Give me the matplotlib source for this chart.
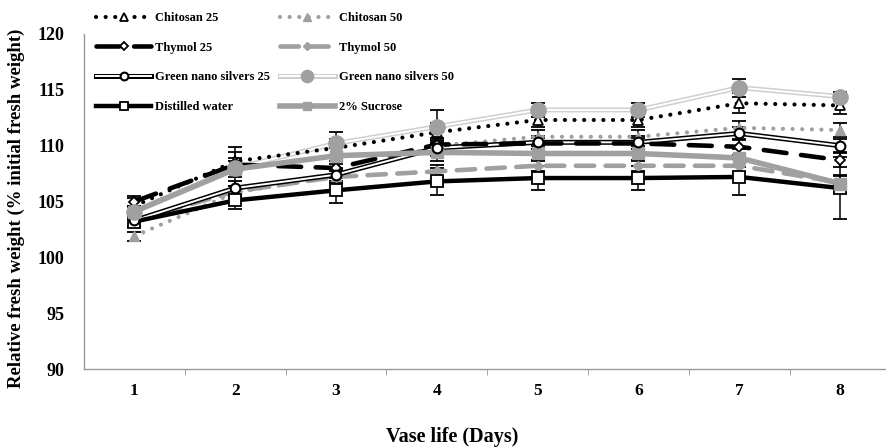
import matplotlib.pyplot as plt
from matplotlib.legend_handler import HandlerTuple

plt.rcParams['font.family'] = ['Liberation Serif', 'DejaVu Serif']
plt.rcParams['font.weight'] = 'bold'

days = [1, 2, 3, 4, 5, 6, 7, 8]

chitosan25 = [104.6, 108.6, 109.8, 111.2, 112.3, 112.3, 113.8, 113.6]
chitosan50 = [101.9, 105.8, 107.3, 110.0, 110.8, 110.8, 111.6, 111.4]
thymol25 = [105.0, 108.3, 108.0, 110.1, 110.2, 110.2, 109.9, 108.7]
thymol50 = [103.3, 105.9, 107.2, 107.7, 108.2, 108.2, 108.2, 106.7]
gns25 = [103.3, 106.2, 107.4, 109.8, 110.3, 110.3, 111.1, 110.0]
gns50 = [104.1, 108.0, 110.2, 111.7, 113.2, 113.2, 115.2, 114.4]
water = [103.2, 105.1, 106.0, 106.8, 107.1, 107.1, 107.2, 106.2]
sucrose = [104.1, 107.9, 109.1, 109.4, 109.3, 109.3, 108.9, 106.6]

err_chitosan25 = [0.7, 0.8, 0.8, 0.8, 0.6, 0.6, 0.9, 0.8]
err_chitosan50 = [0.4, 0.6, 0.6, 0.7, 0.6, 0.6, 0.6, 0.6]
err_thymol25 = [0.5, 0.6, 0.6, 0.6, 0.5, 0.5, 0.7, 0.6]
err_thymol50 = [0.5, 0.5, 0.5, 0.6, 0.5, 0.5, 0.6, 0.6]
err_gns25 = [0.5, 0.6, 0.6, 0.7, 0.6, 0.6, 0.6, 0.6]
err_gns50 = [0.5, 1.9, 1.0, 1.5, 0.6, 0.6, 0.8, 0.4]
err_water = [0.5, 0.8, 1.1, 1.2, 1.1, 1.1, 1.6, 2.8]
err_sucrose = [0.5, 0.7, 0.7, 0.8, 0.7, 0.7, 0.8, 0.8]

fig = plt.figure(figsize=(8.86, 4.47), dpi=100)
ax = fig.add_axes([84/886, 1 - 369/447, 802/886, 335/447])

GRAY = '#a0a0a0'
LIGHT = '#cfcfcf'
DOTS = (0, (0.01, 2.3))

# error bars first
for vals, errs in [(chitosan25, err_chitosan25), (chitosan50, err_chitosan50),
                   (thymol25, err_thymol25), (thymol50, err_thymol50),
                   (gns25, err_gns25), (gns50, err_gns50),
                   (water, err_water), (sucrose, err_sucrose)]:
    ax.errorbar(days, vals, yerr=errs, fmt='none', ecolor='black',
                elinewidth=1.1, capsize=5, capthick=1.3, zorder=2)

# Chitosan 25
l1, = ax.plot(days, chitosan25, color='black', lw=3, linestyle=DOTS,
              dash_capstyle='round', marker='^', ms=7, mfc='white', mec='black', mew=1.3, zorder=4)
# Chitosan 50
l2, = ax.plot(days, chitosan50, color=GRAY, lw=3, linestyle=DOTS,
              dash_capstyle='round', marker='^', ms=7, mfc=GRAY, mec=GRAY, zorder=3)
# Thymol 25
l3, = ax.plot(days, thymol25, color='black', lw=3.3, linestyle=(0, (5, 3.2)),
              dash_capstyle='round', marker='D', ms=5.5, mfc='white', mec='black', mew=1.3, zorder=4)
# Thymol 50
l4, = ax.plot(days, thymol50, color=GRAY, lw=3.3, linestyle=(0, (4, 2.5)),
              dash_capstyle='round', marker='D', ms=5.5, mfc=GRAY, mec=GRAY, zorder=3)
# Green nano silvers 25 (double line)
o5, = ax.plot(days, gns25, color='black', lw=3.6, zorder=3)
i5, = ax.plot(days, gns25, color='white', lw=1.4, zorder=3)
m5, = ax.plot(days, gns25, ls='none', marker='o', ms=7, mfc='white', mec='black', mew=1.5, zorder=5)
# Green nano silvers 50 (double line)
o6, = ax.plot(days, gns50, color=LIGHT, lw=3.6, zorder=3)
i6, = ax.plot(days, gns50, color='white', lw=1.4, zorder=3)
m6, = ax.plot(days, gns50, ls='none', marker='o', ms=11, mfc=GRAY, mec=GRAY, zorder=5)
# Distilled water
l7, = ax.plot(days, water, color='black', lw=3.2, marker='s', ms=8,
              mfc='white', mec='black', mew=1.3, zorder=4)
# 2% Sucrose
l8, = ax.plot(days, sucrose, color=GRAY, lw=4, marker='s', ms=8,
              mfc=GRAY, mec=GRAY, zorder=4)

# legend columns: left column then right column (rows read across)
handles = [l1, l3, (o5, i5, m5), l7, l2, l4, (o6, i6, m6), l8]
labels = ['Chitosan 25', 'Thymol 25', 'Green nano silvers 25', 'Distilled water',
          'Chitosan 50', 'Thymol 50', 'Green nano silvers 50', '2% Sucrose']

leg = fig.legend(handles, labels, ncol=2, loc='upper left', bbox_to_anchor=(0.1, 0.99),
                 frameon=False, handlelength=4.4, handletextpad=0.35,
                 columnspacing=0.75, labelspacing=1.42, borderaxespad=0.2,
                 handler_map={tuple: HandlerTuple(ndivide=1)}, markerscale=0.8,
                 prop={'weight': 'bold', 'size': 9})

ax.set_xlim(0.5, 8.456)
ax.set_ylim(90, 120)
ax.set_yticks([90, 95, 100, 105, 110, 115, 120])
ax.set_xticks(days)
ax.set_xticks([1.5, 2.5, 3.5, 4.5, 5.5, 6.5, 7.5], minor=True)
ax.tick_params(axis='x', which='major', length=0, pad=10, labelsize=12.5)
ax.tick_params(axis='x', which='minor', length=4, color='#999999', direction='out')
ax.tick_params(axis='y', length=0, pad=14, labelsize=13)
for t in ax.get_xticklabels() + ax.get_yticklabels():
    t.set_fontweight('bold')

for side in ['top', 'right']:
    ax.spines[side].set_visible(False)
for side in ['left', 'bottom']:
    ax.spines[side].set_color('#999999')
    ax.spines[side].set_linewidth(1)

fig.text(0.018, 1 - 208/447, 'Relative fresh weight (% initial fresh weight)',
         rotation=90, ha='center', va='center', fontsize=13.5, fontweight='bold')
fig.text(0.51, 1 - 437/447, 'Vase life (Days)', ha='center', va='center',
         fontsize=14.5, fontweight='bold')

fig.savefig('out.png', dpi=100)
